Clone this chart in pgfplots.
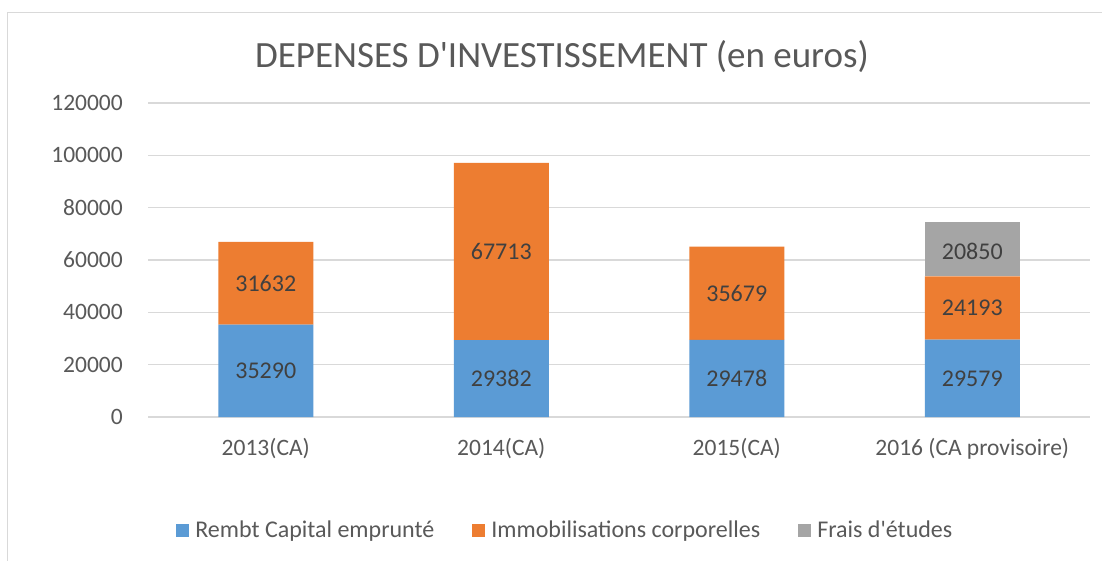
\documentclass[border=0pt]{standalone}
\usepackage{pgfplots}
\pgfplotsset{compat=1.18}
\usepackage{fontspec}
\setmainfont{Carlito}
\definecolor{cblue}{HTML}{5B9BD5}
\definecolor{corange}{HTML}{ED7D31}
\definecolor{cgray}{HTML}{A5A5A5}
\definecolor{ctext}{HTML}{595959}
\definecolor{clabel}{HTML}{404040}
\definecolor{cgrid}{HTML}{D9D9D9}
\begin{document}
\begin{tikzpicture}[x=1pt,y=1pt]
\useasboundingbox (0,0) rectangle (1102,-560);
\fill[white] (0,0) rectangle (1102,-560);
\begin{scope}
\clip (0,0) rectangle (1102,-560);
\draw[cgrid, line width=1.2pt] (7.5,-12.5) rectangle (1120,-580);
\end{scope}
\node[font=\fontsize{37}{44}\selectfont, text=ctext, anchor=center] at (562,-57) {DEPENSES D\textquotesingle INVESTISSEMENT (en euros)};
\begin{axis}[
  at={(148pt,-417pt)}, anchor=south west,
  scale only axis, width=942pt, height=314pt,
  ybar stacked, bar width=95pt,
  xmin=-0.5, xmax=3.5, ymin=0, ymax=120000,
  xtick={0,1,2,3},
  xticklabels={2013(CA),2014(CA),2015(CA),2016 (CA provisoire)},
  ytick={0,20000,40000,60000,80000,100000,120000},
  yticklabels={0,20000,40000,60000,80000,100000,120000},
  scaled y ticks=false,
  yticklabel style={anchor=east, inner sep=0pt, xshift=-25pt, font=\fontsize{23.5}{27}\selectfont, text=ctext},
  xticklabel style={anchor=base, inner sep=0pt, yshift=-38pt, font=\fontsize{23.5}{27}\selectfont, text=ctext},
  major tick length=0pt,
  axis line style={draw=none},
  ymajorgrids, grid style={cgrid, line width=1.2pt},
  legend style={draw=none, fill=none, legend columns=3, at={(0.443,-0.36)}, anchor=center,
    font=\fontsize{24}{28}\selectfont, text=ctext,
    /tikz/every even column/.style={column sep=36pt}},
  legend cell align=left,
]
\addplot[fill=cblue, draw=none, legend image code/.code={\fill[cblue] (0pt,-6.5pt) rectangle (13pt,6.5pt); \path (17pt,0pt);}] coordinates {(0,35290) (1,29382) (2,29478) (3,29579)};
\addlegendentry{Rembt Capital emprunté}
\addplot[fill=corange, draw=none, legend image code/.code={\fill[corange] (0pt,-6.5pt) rectangle (13pt,6.5pt); \path (17pt,0pt);}] coordinates {(0,31632) (1,67713) (2,35679) (3,24193)};
\addlegendentry{Immobilisations corporelles}
\addplot[fill=cgray, draw=none, legend image code/.code={\fill[cgray] (0pt,-6.5pt) rectangle (13pt,6.5pt); \path (17pt,0pt);}] coordinates {(0,0) (1,0) (2,0) (3,20850)};
\addlegendentry{Frais d\textquotesingle études}
\end{axis}
\begin{axis}[
  at={(148pt,-417pt)}, anchor=south west,
  scale only axis, width=942pt, height=314pt,
  xmin=-0.5, xmax=3.5, ymin=0, ymax=120000,
  hide axis, clip=false,
]
\addplot[draw=none, mark=none, nodes near coords, point meta=explicit symbolic,
  every node near coord/.style={anchor=center, font=\fontsize{24}{28}\selectfont, text=clabel}]
  coordinates {
  (0,17645)[35290] (0,51106)[31632]
  (1,14691)[29382] (1,63238)[67713]
  (2,14739)[29478] (2,47318)[35679]
  (3,14790)[29579] (3,41676)[24193] (3,63197)[20850]
  };
\end{axis}
\end{tikzpicture}
\end{document}
